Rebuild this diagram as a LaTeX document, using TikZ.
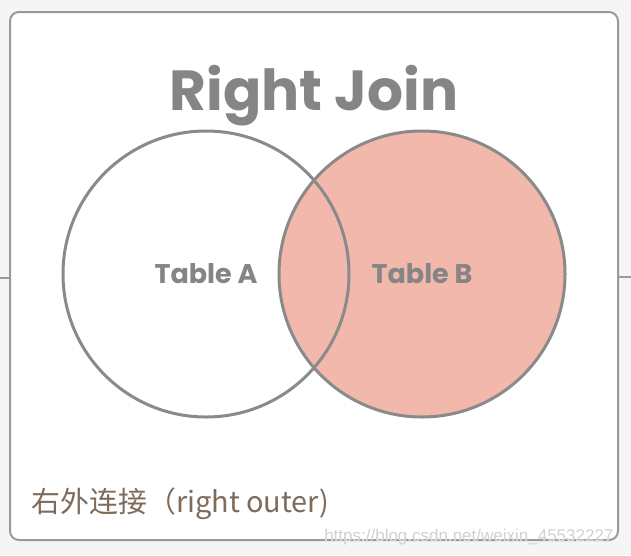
\documentclass[tikz,border=0pt]{standalone}
\usepackage{fontspec}
\newfontfamily\popfont{Poppins}
\newfontfamily\cjkfont{Noto Sans CJK SC}
\newfontfamily\markfont{Liberation Sans}
\usetikzlibrary{positioning}

\definecolor{bggray}{HTML}{F5F5F5}
\definecolor{framegray}{HTML}{9A9A9A}
\definecolor{circgray}{HTML}{8A8A8A}
\definecolor{labelgray}{HTML}{858585}
\definecolor{salmon}{HTML}{F2B8AB}
\definecolor{notebrown}{HTML}{7E6B5A}

\tikzset{
  venn/.style={circle, draw=circgray, line width=3pt, minimum size=286pt, inner sep=0pt,
    text=labelgray, font=\popfont\bfseries\fontsize{27}{27}\selectfont},
  heading/.style={text=labelgray, font=\popfont\bfseries\fontsize{56.5}{56.5}\selectfont},
  note/.style={text=notebrown, font=\cjkfont\fontsize{28.9}{28.9}\selectfont, anchor=west},
}

\begin{document}
\begin{tikzpicture}[x=1pt, y=-1pt]
% background and frame
\fill[bggray] (0,0) rectangle (631,555);
\useasboundingbox (0,0) rectangle (631,555);
\draw[framegray, line width=2pt, fill=white, rounded corners=9pt] (10,12) rectangle (618,540);
\coordinate (lin) at (0,278);
\coordinate (lout) at (10,278);
\coordinate (rin) at (618,277);
\coordinate (rout) at (631,277);
\draw[framegray, line width=2pt] (lin) -- (lout);
\draw[framegray, line width=2pt] (rin) -- (rout);

% title
\node[heading] (title) at (314,96) {Right Join};

% the two tables
\node[venn, fill=salmon] (tabB) at (422,274) {Table B};
\node[venn] (tabA) at (206,274) {Table A};

% caption
\node[note] (caption) at (28,504) {右外连接（right outer)};
\node[text=white, font=\markfont\fontsize{17}{17}\selectfont, anchor=east] (mark) at (617,537) {https://blog.csdn.net/weixin\_45532227};
\node[text=black!18, font=\markfont\fontsize{17}{17}\selectfont, anchor=east] at (mark.east) {https://blog.csdn.net/weixin\_45532227};
\end{tikzpicture}
\end{document}
